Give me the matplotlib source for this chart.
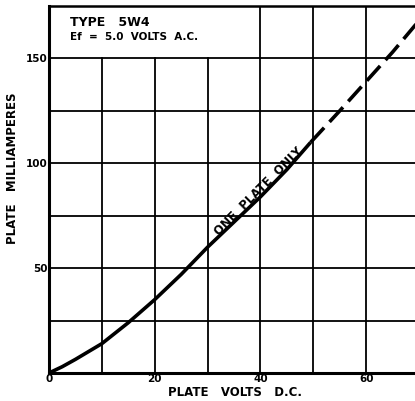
import matplotlib
matplotlib.use("Agg")
import matplotlib.pyplot as plt

# Solid part of the curve (plate volts D.C., plate milliamperes)
volts_solid = [0, 2.5, 5, 10, 15, 20, 25, 30, 35, 40, 45, 49.5]
ma_solid = [0, 3, 6.5, 14, 24, 35, 47, 60, 72, 84, 97, 110]
# Dashed extrapolated part
volts_dash = [49.5, 55, 60, 65, 70]
ma_dash = [110, 125, 139, 153, 168]

x_ticks = [0, 20, 40, 60]
x_ticklabels = ["0", "20", "40", "60"]
y_ticks = [50, 100, 150]
y_ticklabels = ["50", "100", "150"]

W, H = 415, 401
fig = plt.figure(figsize=(W / 100, H / 100), dpi=100)
ax = fig.add_axes([49 / W, 28 / H, 370 / W, 367 / H])
ax.set_xlim(0, 70)
ax.set_ylim(0, 175)

# grid (vertical lines under the title block stop at 150)
for gx in range(10, 70, 10):
    top = 150 / 175 if gx <= 30 else 1
    ax.axvline(gx, ymax=top, color="black", lw=1.3, zorder=1)
for gy in range(25, 175, 25):
    ax.axhline(gy, color="black", lw=1.3, zorder=1)

ax.plot(volts_solid, ma_solid, color="black", lw=2.6, solid_capstyle="butt", zorder=3)
ax.plot(volts_dash, ma_dash, color="black", lw=2.6, dashes=(5.5, 2.2), zorder=3)

for s in ["left", "bottom"]:
    ax.spines[s].set_linewidth(2.2)
ax.spines["top"].set_linewidth(1.8)
ax.spines["right"].set_visible(False)

ax.set_xticks(x_ticks)
ax.set_xticklabels(x_ticklabels, fontsize=7.5, fontweight="bold")
ax.set_yticks(y_ticks)
ax.set_yticklabels(y_ticklabels, fontsize=7.5, fontweight="bold")
ax.tick_params(length=0, pad=1)

fig.text(235 / W, 1 - 392 / H, "PLATE   VOLTS   D.C.", ha="center", va="center",
         fontsize=8.5, fontweight="bold")
fig.text(13 / W, 1 - 168 / H, "PLATE   MILLIAMPERES", ha="center", va="center",
         rotation=90, fontsize=8.5, fontweight="bold")

ax.text(4, 167, "TYPE   5W4", fontsize=9, fontweight="bold", va="center", ha="left")
ax.text(4, 160, "Ef  =  5.0  VOLTS  A.C.", fontsize=7.5, fontweight="bold", va="center", ha="left")

ax.text(39.6, 86.6, "ONE  PLATE  ONLY", fontsize=8.5, fontweight="bold",
        rotation=45, rotation_mode="anchor", ha="center", va="center", zorder=4)

fig.savefig("out.png", dpi=100)
